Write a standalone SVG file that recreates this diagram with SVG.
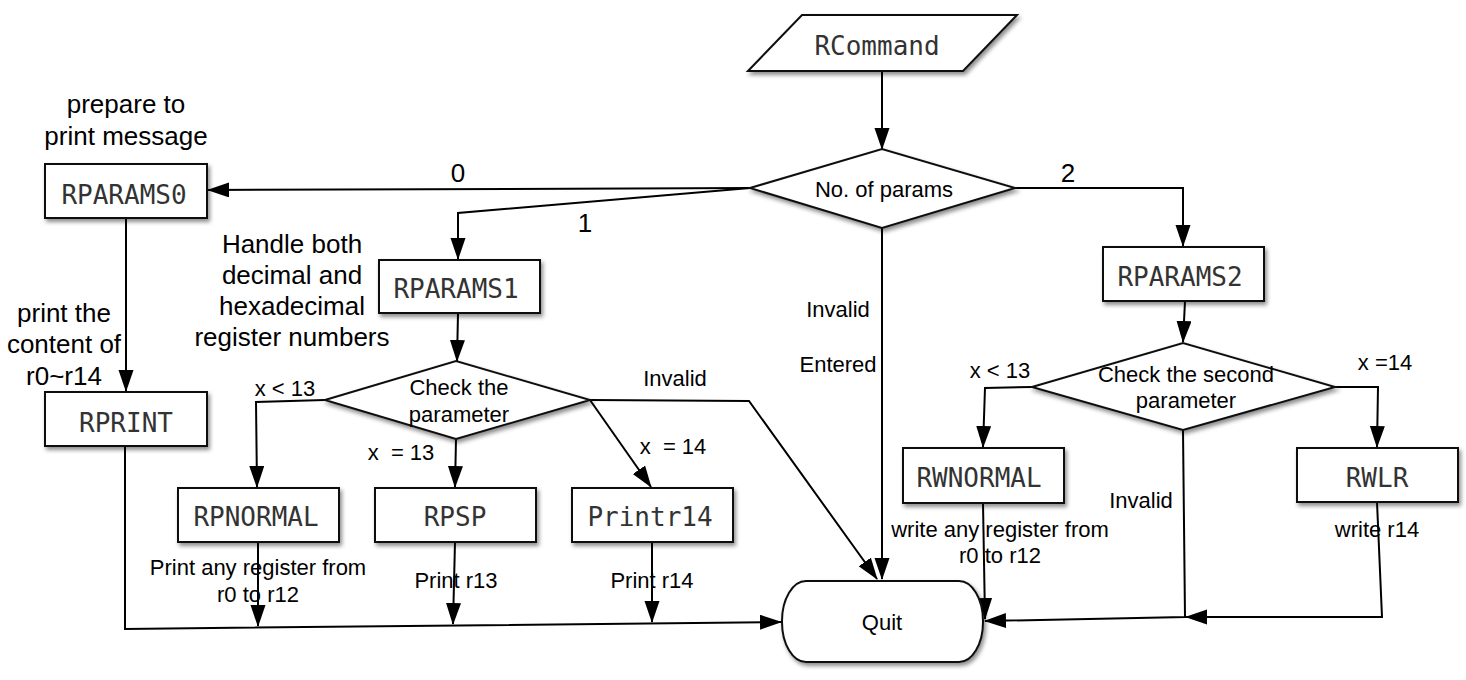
<svg xmlns="http://www.w3.org/2000/svg" width="1466" height="680" viewBox="0 0 1466 680">
<defs>
<filter id="sh" x="-10%" y="-10%" width="130%" height="140%">
<feDropShadow dx="2" dy="3" stdDeviation="2" flood-color="#000" flood-opacity="0.45"/>
</filter>
<marker id="ar" markerUnits="userSpaceOnUse" markerWidth="22" markerHeight="16" refX="21" refY="7.5" orient="auto">
<path d="M0,0 L22,7.5 L0,15 z" fill="#000"/>
</marker>
</defs>
<style>
.box{fill:#fff;stroke:#111;stroke-width:2;filter:url(#sh)}
.mono{font-family:"DejaVu Sans Mono","Liberation Mono",monospace;font-size:26px;fill:#333;text-anchor:middle}
.lbl{font-family:"Liberation Sans",Arial,sans-serif;font-size:22px;fill:#000;text-anchor:middle}
.big{font-family:"Liberation Sans",Arial,sans-serif;font-size:26px;fill:#000;text-anchor:middle}
.c{fill:none;stroke:#000;stroke-width:2}
</style>
<rect width="1466" height="680" fill="#fff"/>

<g id="connectors">
<path class="c" marker-end="url(#ar)" d="M882,71 L882,149"/>
<path class="c" marker-end="url(#ar)" d="M750,188 L208,190"/>
<path class="c" marker-end="url(#ar)" d="M750,188 L458,213 L458,259"/>
<path class="c" marker-end="url(#ar)" d="M1015,188 L1183,188 L1183,246"/>
<path class="c" marker-end="url(#ar)" d="M882,228 L882,579"/>
<path class="c" marker-end="url(#ar)" d="M126,218 L126,391"/>
<path class="c" marker-end="url(#ar)" d="M125,446 L125,629 L781,622"/>
<path class="c" marker-end="url(#ar)" d="M458,313 L457,361"/>
<path class="c" marker-end="url(#ar)" d="M325,400 L256,402 L257,487"/>
<path class="c" marker-end="url(#ar)" d="M456,439 L455,487"/>
<path class="c" marker-end="url(#ar)" d="M590,400 L651,487"/>
<path class="c" marker-end="url(#ar)" d="M590,400 L749,401 L877,579"/>
<path class="c" marker-end="url(#ar)" d="M258,542 L258,626"/>
<path class="c" marker-end="url(#ar)" d="M455,542 L453,624"/>
<path class="c" marker-end="url(#ar)" d="M652,542 L652,622"/>
<path class="c" marker-end="url(#ar)" d="M1185,301 L1183,342"/>
<path class="c" marker-end="url(#ar)" d="M1032,387 L985,388 L983,447"/>
<path class="c" marker-end="url(#ar)" d="M1335,387 L1378,387 L1377,447"/>
<path class="c" marker-end="url(#ar)" d="M1183,430 L1185,617 L985,621"/>
<path class="c" marker-end="url(#ar)" d="M1377,502 L1382,617 L1186,617"/>
<path class="c" marker-end="url(#ar)" d="M983,503 L985,619"/>
</g>

<g id="edge-labels">
<text class="big" x="458" y="182">0</text>
<text class="big" x="585" y="232">1</text>
<text class="big" x="1068" y="182">2</text>
<text class="lbl" x="838" y="317">Invalid</text>
<text class="lbl" x="838" y="372">Entered</text>
<text class="lbl" x="285" y="396">x &lt; 13</text>
<text class="lbl" x="401" y="460" xml:space="preserve">x  = 13</text>
<text class="lbl" x="673" y="454" xml:space="preserve">x  = 14</text>
<text class="lbl" x="675" y="386">Invalid</text>
<text class="lbl" x="1000" y="378">x &lt; 13</text>
<text class="lbl" x="1385" y="370">x =14</text>
<text class="lbl" x="1141" y="508">Invalid</text>
</g>

<g id="notes">
<text class="big" x="126" y="113">prepare to</text>
<text class="big" x="126" y="145">print message</text>
<text class="big" x="292" y="253">Handle both</text>
<text class="big" x="292" y="284">decimal and</text>
<text class="big" x="292" y="315">hexadecimal</text>
<text class="big" x="292" y="346">register numbers</text>
<text class="big" x="64" y="322">print the</text>
<text class="big" x="64" y="353">content of</text>
<text class="big" x="64" y="385">r0~r14</text>
<text class="lbl" x="258" y="575">Print any register from</text>
<text class="lbl" x="258" y="602">r0 to r12</text>
<text class="lbl" x="456" y="588">Print r13</text>
<text class="lbl" x="652" y="588">Print r14</text>
<text class="lbl" x="1000" y="537">write any register from</text>
<text class="lbl" x="1000" y="563">r0 to r12</text>
<text class="lbl" x="1377" y="537">write r14</text>
</g>

<g id="RCommand">
<polygon class="box" points="802,15 1017,15 963,71 748,71"/>
<text class="mono" x="877" y="55">RCommand</text>
</g>
<g id="NoOfParams">
<polygon class="box" points="750,188 882,149 1015,188 882,228"/>
<text class="lbl" x="884" y="197">No. of params</text>
</g>
<g id="RPARAMS0">
<rect class="box" x="45" y="164" width="162" height="54"/>
<text class="mono" x="124" y="204">RPARAMS0</text>
</g>
<g id="RPRINT">
<rect class="box" x="45" y="392" width="162" height="54"/>
<text class="mono" x="126" y="432">RPRINT</text>
</g>
<g id="RPARAMS1">
<rect class="box" x="379" y="260" width="161" height="53"/>
<text class="mono" x="456" y="298">RPARAMS1</text>
</g>
<g id="CheckParam">
<polygon class="box" points="325,400 456,361 590,400 456,439"/>
<text class="lbl" x="459" y="395">Check the</text>
<text class="lbl" x="459" y="422">parameter</text>
</g>
<g id="RPNORMAL">
<rect class="box" x="178" y="488" width="161" height="54"/>
<text class="mono" x="256" y="526">RPNORMAL</text>
</g>
<g id="RPSP">
<rect class="box" x="375" y="488" width="161" height="54"/>
<text class="mono" x="455" y="526">RPSP</text>
</g>
<g id="Printr14">
<rect class="box" x="572" y="488" width="161" height="54"/>
<text class="mono" x="650" y="526">Printr14</text>
</g>
<g id="RPARAMS2">
<rect class="box" x="1103" y="247" width="161" height="54"/>
<text class="mono" x="1180" y="286">RPARAMS2</text>
</g>
<g id="CheckSecond">
<polygon class="box" points="1032,387 1183,343 1335,387 1183,430"/>
<text class="lbl" x="1186" y="382">Check the second</text>
<text class="lbl" x="1186" y="408">parameter</text>
</g>
<g id="RWNORMAL">
<rect class="box" x="903" y="448" width="161" height="55"/>
<text class="mono" x="979" y="487">RWNORMAL</text>
</g>
<g id="RWLR">
<rect class="box" x="1297" y="448" width="161" height="54"/>
<text class="mono" x="1377" y="487">RWLR</text>
</g>
<g id="Quit">
<rect class="box" x="782" y="581" width="201" height="81" rx="24" ry="40"/>
<text class="lbl" x="882" y="630">Quit</text>
</g>
</svg>
